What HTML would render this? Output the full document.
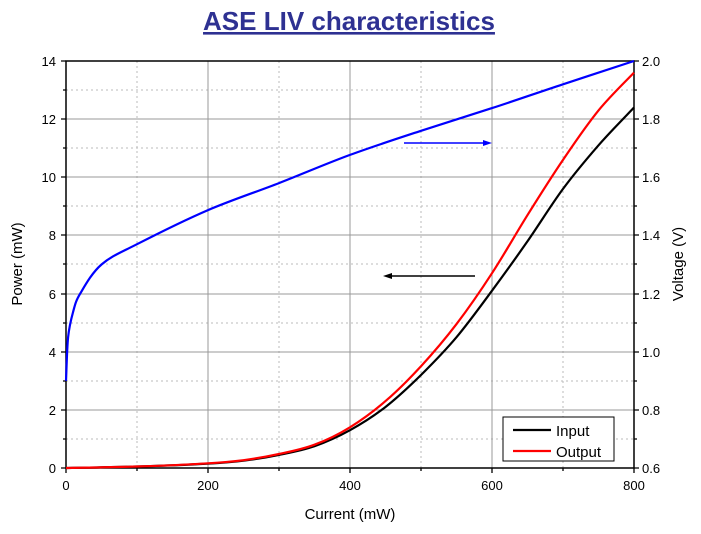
<!DOCTYPE html>
<html><head><style>body{margin:0;background:#fff}</style></head><body>
<svg width="701" height="529" xmlns="http://www.w3.org/2000/svg" font-family="Liberation Sans, Arial, sans-serif">
<text x="349" y="30" text-anchor="middle" font-size="26" font-weight="bold" fill="#2e3192" text-decoration="underline">ASE LIV characteristics</text>
<g stroke="#bbb" stroke-dasharray="2,3" stroke-width="1">
<line x1="137" y1="61" x2="137" y2="468"/><line x1="279" y1="61" x2="279" y2="468"/><line x1="421" y1="61" x2="421" y2="468"/><line x1="563" y1="61" x2="563" y2="468"/>
<line x1="66" y1="90" x2="634" y2="90"/><line x1="66" y1="148" x2="634" y2="148"/><line x1="66" y1="206" x2="634" y2="206"/><line x1="66" y1="264" x2="634" y2="264"/><line x1="66" y1="323" x2="634" y2="323"/><line x1="66" y1="381" x2="634" y2="381"/><line x1="66" y1="439" x2="634" y2="439"/>
</g>
<g stroke="#999" stroke-width="1">
<line x1="208" y1="61" x2="208" y2="468"/><line x1="350" y1="61" x2="350" y2="468"/><line x1="492" y1="61" x2="492" y2="468"/>
<line x1="66" y1="119" x2="634" y2="119"/><line x1="66" y1="177" x2="634" y2="177"/><line x1="66" y1="235" x2="634" y2="235"/><line x1="66" y1="294" x2="634" y2="294"/><line x1="66" y1="352" x2="634" y2="352"/><line x1="66" y1="410" x2="634" y2="410"/>
</g>
<rect x="66" y="61" width="568" height="407" fill="none" stroke="#000" stroke-width="1.5"/>
<g stroke="#000" stroke-width="1.3">
<path d="M66 468v5M208 468v5M350 468v5M492 468v5M634 468v5M137 468v3M279 468v3M421 468v3M563 468v3"/>
<path d="M66 61h-5M66 119h-5M66 177h-5M66 235h-5M66 294h-5M66 352h-5M66 410h-5M66 468h-5M66 90h-3M66 148h-3M66 206h-3M66 264h-3M66 323h-3M66 381h-3M66 439h-3"/>
<path d="M634 61h5M634 119h5M634 177h5M634 235h5M634 294h5M634 352h5M634 410h5M634 468h5M634 90h3M634 148h3M634 206h3M634 264h3M634 323h3M634 381h3M634 439h3"/>
</g>
<g font-size="13" fill="#000" text-anchor="end">
<text x="56" y="66">14</text><text x="56" y="124">12</text><text x="56" y="182">10</text><text x="56" y="240">8</text><text x="56" y="299">6</text><text x="56" y="357">4</text><text x="56" y="415">2</text><text x="56" y="473">0</text>
</g>
<g font-size="13" fill="#000">
<text x="642" y="66">2.0</text><text x="642" y="124">1.8</text><text x="642" y="182">1.6</text><text x="642" y="240">1.4</text><text x="642" y="299">1.2</text><text x="642" y="357">1.0</text><text x="642" y="415">0.8</text><text x="642" y="473">0.6</text>
</g>
<g font-size="13" fill="#000" text-anchor="middle">
<text x="66" y="490">0</text><text x="208" y="490">200</text><text x="350" y="490">400</text><text x="492" y="490">600</text><text x="634" y="490">800</text>
<text x="350" y="519" font-size="15">Current (mW)</text>
</g>
<text transform="translate(22,264) rotate(-90)" font-size="15" text-anchor="middle">Power (mW)</text>
<text transform="translate(683,264) rotate(-90)" font-size="15" text-anchor="middle">Voltage (V)</text>
<path id="blk" fill="none" stroke="#000" stroke-width="2.2" d=""/>
<path id="red" fill="none" stroke="#f00" stroke-width="2.2" d=""/>
<path id="blu" fill="none" stroke="#00f" stroke-width="2.2" d=""/>
<line x1="404" y1="143" x2="484" y2="143" stroke="#00f" stroke-width="1.5"/><path d="M492 143 l-9 -3 v6z" fill="#00f"/>
<line x1="475" y1="276" x2="391" y2="276" stroke="#000" stroke-width="1.5"/><path d="M383 276 l9 -3 v6z" fill="#000"/>
<rect x="503" y="417" width="111" height="44" fill="#fff" stroke="#000" stroke-width="1"/>
<line x1="513" y1="430" x2="551" y2="430" stroke="#000" stroke-width="2.2"/>
<line x1="513" y1="451" x2="551" y2="451" stroke="#f00" stroke-width="2.2"/>
<text x="556" y="436" font-size="15">Input</text>
<text x="556" y="457" font-size="15">Output</text>
</svg>
<script>
function X(i){return 66+i*0.71}
function YP(p){return 468-p*29.07}
function YV(v){return 468-(v-0.6)*290.7}
function cr(pts){var d="M"+pts[0][0].toFixed(1)+" "+pts[0][1].toFixed(1);
for(var i=0;i<pts.length-1;i++){var p0=pts[Math.max(i-1,0)],p1=pts[i],p2=pts[i+1],p3=pts[Math.min(i+2,pts.length-1)];
var c1=[p1[0]+(p2[0]-p0[0])/6,p1[1]+(p2[1]-p0[1])/6],c2=[p2[0]-(p3[0]-p1[0])/6,p2[1]-(p3[1]-p1[1])/6];
d+=" C"+c1[0].toFixed(1)+" "+c1[1].toFixed(1)+" "+c2[0].toFixed(1)+" "+c2[1].toFixed(1)+" "+p2[0].toFixed(1)+" "+p2[1].toFixed(1);}
return d;}
var b=[[0,0],[100,0.05],[200,0.15],[250,0.25],[300,0.45],[350,0.75],[400,1.3],[450,2.1],[500,3.2],[550,4.5],[600,6.1],[650,7.8],[700,9.6],[750,11.1],[800,12.4]];
var r=[[0,0],[100,0.05],[200,0.16],[250,0.27],[300,0.48],[350,0.8],[400,1.4],[450,2.3],[500,3.5],[550,4.95],[600,6.7],[650,8.7],[700,10.6],[750,12.3],[800,13.6]];
var v=[[0,0.9],[3,1.05],[10,1.137],[20,1.2],[50,1.3],[100,1.37],[200,1.487],[300,1.58],[400,1.677],[500,1.76],[600,1.838],[700,1.92],[800,2.0]];
document.getElementById("blk").setAttribute("d",cr(b.map(function(p){return[X(p[0]),YP(p[1])]})));
document.getElementById("red").setAttribute("d",cr(r.map(function(p){return[X(p[0]),YP(p[1])]})));
document.getElementById("blu").setAttribute("d",cr(v.map(function(p){return[X(p[0]),YV(p[1])]})));
</script>
</body></html>
